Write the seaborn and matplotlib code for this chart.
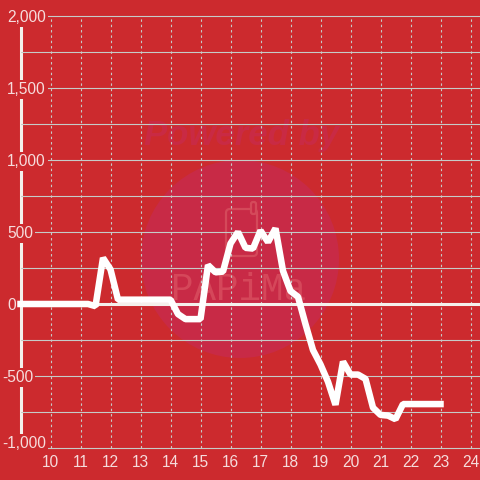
import numpy as np
import pandas as pd
import seaborn as sns
import matplotlib.pyplot as plt
from matplotlib.patches import Circle, FancyBboxPatch
from matplotlib.transforms import Affine2D
from matplotlib.ticker import MultipleLocator

hours = [9, 11.25, 11.5, 11.75, 12, 12.25, 14, 14.25, 14.5, 15, 15.25, 15.5, 15.75, 16,
         16.25, 16.5, 16.75, 17, 17.25, 17.5, 17.75, 18, 18.25, 18.5, 18.75, 19, 19.25,
         19.5, 19.75, 20, 20.25, 20.5, 20.75, 21, 21.25, 21.5, 21.75, 22, 23]
values = [0, 0, -15, 320, 240, 30, 30, -70, -105, -105, 270, 220, 225, 420,
          500, 390, 385, 510, 430, 525, 230, 90, 50, -140, -320, -420, -540,
          -700, -400, -490, -490, -520, -720, -770, -775, -800, -695, -695, -695]
x_ticks = list(range(10, 25))
y_ticks = [-1000, -500, 0, 500, 1000, 1500, 2000]

BG = '#cc2a2e'
GRID = '#c6cbc8'
LABEL = '#f6dcdc'
W = 480

sns.set_theme(style="white")
plt.rcParams['font.family'] = ['Liberation Sans', 'DejaVu Sans']

fig = plt.figure(figsize=(4.8, 4.8), dpi=100, facecolor=BG)
ax = fig.add_axes([20.5 / W, (W - 448) / W, (W - 20.5) / W, 432 / W])
ax.patch.set_alpha(0)

# watermark sits behind the transparent axes, in pixels from the top left
px = Affine2D().scale(1, -1).translate(0, W)
fig.add_artist(Circle((240, 259), 99, transform=px, fc='#c82a46', ec='none', zorder=-3))
fig.add_artist(FancyBboxPatch((228, 211), 27, 43, boxstyle='round,pad=2,rounding_size=4', transform=px,
                              fc='none', ec='#d4495a', lw=1.6, zorder=-2))
fig.add_artist(FancyBboxPatch((252, 203), 3, 10, boxstyle='round,pad=1,rounding_size=2', transform=px,
                              fc='#c82a46', ec='#d4495a', lw=1.6, zorder=-2))
fig.text(242 / W, 1 - 135 / W, 'Powered by', ha='center', va='center', color='#c92a44', fontsize=25,
         fontweight='bold', fontstyle='italic', zorder=-2)
fig.text(239 / W, 1 - 290 / W, 'PAPiMa', ha='center', va='center', color='#d5475a', fontsize=27,
         family='Liberation Mono', zorder=-2)

df = pd.DataFrame({'hour': hours, 'value': values})
line_ax = sns.lineplot(data=df, x='hour', y='value', ax=ax, color='white', linewidth=4.7, zorder=4,
                       solid_joinstyle='bevel', solid_capstyle='projecting', errorbar=None)
line_ax.lines[0].set_clip_on(False)

ax.set_xlim(9, 9 + (W - 20.5) / 30)
ax.set_ylim(-1000, 2000)
ax.set_xlabel('')
ax.set_ylabel('')
ax.axhline(0, color='#f4f0ec', lw=2.2, zorder=3)

ax.set_xticks(x_ticks)
ax.set_yticks(y_ticks)
ax.set_yticklabels([f'{v:,}' for v in y_ticks])
ax.yaxis.set_minor_locator(MultipleLocator(250))
ax.set_axisbelow(False)
ax.grid(True, axis='y', which='both', color=GRID, lw=0.8, ls='-')
ax.grid(True, axis='x', which='major', color=GRID, lw=0.8, ls=(0, (2.2, 2.6)))
for gl in ax.get_ygridlines():
    gl.set_clip_on(False)
ax.tick_params(which='both', length=0)
ax.tick_params(axis='x', pad=5, labelsize=11.2, labelcolor=LABEL)
ax.tick_params(axis='y', pad=9.7, labelsize=11.2, labelcolor=LABEL)

for lab, v in zip(ax.get_yticklabels(), y_ticks):
    lab.set_ha('left')
    lab.set_bbox(dict(fc=BG, ec='none', pad=1.5))
    dx = -5 if v < 0 else 0
    dy = 6 if v == -1000 else 0
    lab.set_transform(lab.get_transform() + Affine2D().translate(dx, dy))

for side in ['top', 'right', 'bottom']:
    ax.spines[side].set_visible(False)
ax.spines['left'].set_color('#f4f0ec')
ax.spines['left'].set_linewidth(2.2)

fig.savefig('out.png', dpi=100, facecolor=BG)
